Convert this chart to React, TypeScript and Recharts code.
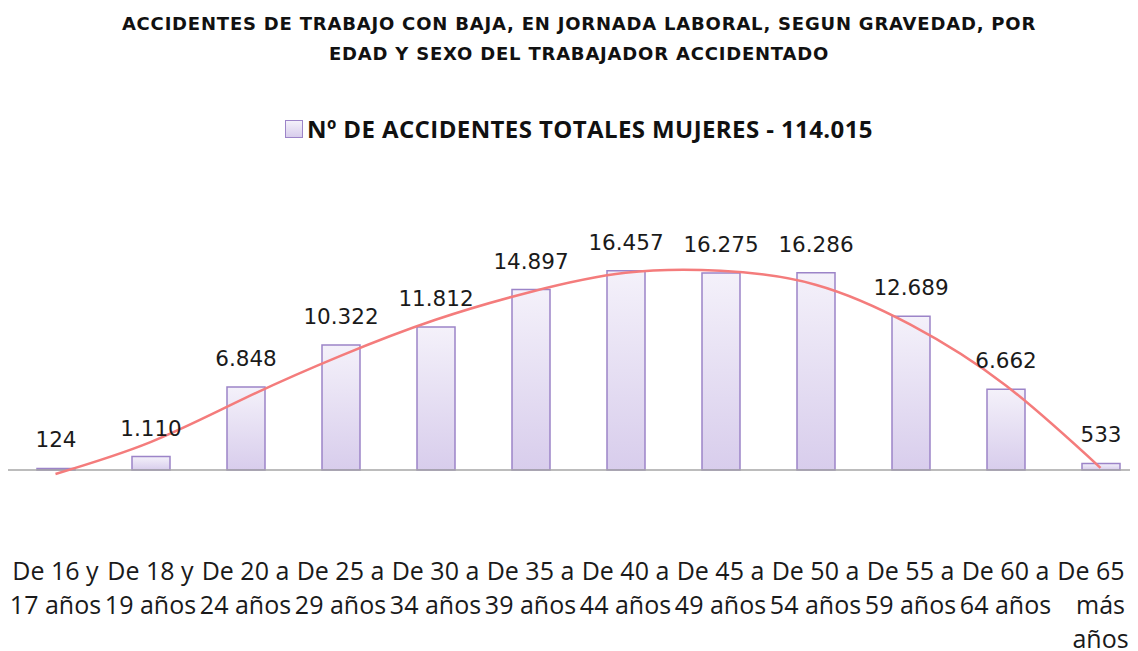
import { Bar, ComposedChart, LabelList, Line, ReferenceLine, XAxis, YAxis } from "recharts";

const categories = [
  "De 16 y\n17 años",
  "De 18 y\n19 años",
  "De 20 a\n24 años",
  "De 25 a\n29 años",
  "De 30 a\n34 años",
  "De 35 a\n39 años",
  "De 40 a\n44 años",
  "De 45 a\n49 años",
  "De 50 a\n54 años",
  "De 55 a\n59 años",
  "De 60 a\n64 años",
  "De 65 y\nmás\naños",
];

const accidentes = [124, 1110, 6848, 10322, 11812, 14897, 16457, 16275, 16286, 12689, 6662, 533];

// línea de tendencia (polinómica de Excel)
const tendencia = [-330, 2300, 5950, 9420, 12400, 14700, 16280, 16450, 15300, 12000, 7000, 170];

const titulo = [
  "ACCIDENTES DE TRABAJO CON BAJA, EN JORNADA LABORAL, SEGUN GRAVEDAD, POR",
  "EDAD Y SEXO DEL TRABAJADOR ACCIDENTADO",
];
const leyenda = "Nº DE ACCIDENTES TOTALES MUJERES - 114.015";

const data = categories.map((c, i) => ({ cat: c, valor: accidentes[i], trend: tendencia[i] }));

// separador de miles con punto, también para 4 cifras (1.110)
const fmt = (v: number) => String(v).replace(/\B(?=(\d{3})+(?!\d))/g, ".");

const EdadTick = ({ x, y, payload }: any) => {
  const lines = String(payload.value).split("\n");
  return (
    <text x={x} y={y} textAnchor="middle" fill="#1a1a1a" fontFamily="Open Sans" fontSize={25}>
      {lines.map((l, i) => (
        <tspan key={i} x={x} dy={i === 0 ? 104 : 34}>
          {l}
        </tspan>
      ))}
    </text>
  );
};

export default function App() {
  return (
    <div style={{ position: "relative", width: 1130, height: 643, overflow: "hidden", background: "#fff" }}>
      <div
        style={{
          position: "absolute",
          left: 0,
          top: 1,
          width: 1142,
          textAlign: "center",
          fontFamily: "DejaVu Sans",
          fontWeight: 700,
          fontSize: 18,
          letterSpacing: 0.8,
          lineHeight: "30px",
          color: "#111",
        }}
      >
        {titulo.map((t) => (
          <div key={t}>{t}</div>
        ))}
      </div>
      <div
        style={{
          position: "absolute",
          left: 0,
          top: 106,
          width: 1142,
          display: "flex",
          justifyContent: "center",
          alignItems: "center",
          fontFamily: "Open Sans",
          fontWeight: 700,
          fontSize: 24,
          letterSpacing: 0.4,
          lineHeight: "30px",
          color: "#111",
        }}
      >
        <span
          style={{
            display: "inline-block",
            width: 16,
            height: 16,
            marginRight: 4,
            border: "1px solid #9c84c8",
            background: "linear-gradient(#f4f1fa, #d8cdec)",
          }}
        />
        <span>{leyenda}</span>
      </div>
      <div style={{ position: "absolute", left: 0, top: 0 }}>
        <ComposedChart width={1140} height={643} data={data} margin={{ top: 244, right: 0, bottom: 0, left: 0 }}>
          <defs>
            <linearGradient id="barFill" x1="0" y1="0" x2="0" y2="1">
              <stop offset="0%" stopColor="#f4f1fa" />
              <stop offset="100%" stopColor="#d8cdec" />
            </linearGradient>
          </defs>
          <XAxis
            dataKey="cat"
            axisLine={false}
            tickLine={false}
            tickSize={0}
            tickMargin={0}
            height={175}
            interval={0}
            tick={<EdadTick />}
          />
          <YAxis hide domain={[-500, 18000]} />
          <ReferenceLine y={0} stroke="#a6a6a6" strokeWidth={1.5} />
          <Bar dataKey="valor" barSize={38} fill="url(#barFill)" stroke="#9c84c8" strokeWidth={1.5} isAnimationActive={false}>
            <LabelList
              dataKey="valor"
              position="top"
              offset={21}
              formatter={(v: any) => fmt(Number(v))}
              fill="#1a1a1a"
              fontFamily="DejaVu Sans"
              fontSize={21.5}
            />
          </Bar>
          <Line
            type="natural"
            dataKey="trend"
            stroke="#f47c7c"
            strokeWidth={2.5}
            dot={false}
            activeDot={false}
            isAnimationActive={false}
          />
        </ComposedChart>
      </div>
    </div>
  );
}
